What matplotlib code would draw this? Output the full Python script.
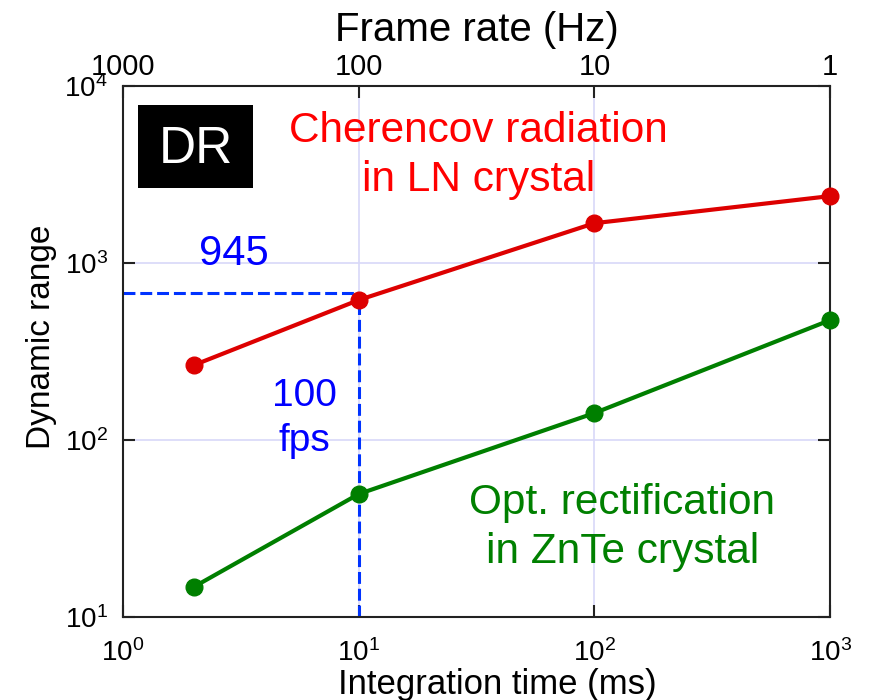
import numpy as np
import matplotlib.pyplot as plt
import matplotlib as mpl
from matplotlib.patches import Rectangle

mpl.rcParams["font.family"] = ["Liberation Sans", "DejaVu Sans"]
mpl.rcParams["mathtext.fontset"] = "custom"
mpl.rcParams["mathtext.rm"] = "Liberation Sans"
mpl.rcParams["mathtext.it"] = "Liberation Sans:italic"

# integration time (ms) and dynamic range for the two emitters
t_ms = [2, 10, 100, 1000]
dr_ln = [265, 618, 1680, 2390]
dr_znte = [14.8, 49.5, 142, 476]

# 100 fps guide lines
guide_t = 10
guide_dr = 676

frame_rates = [1000, 100, 10, 1]
frame_labels = ["1000", "100", "10", "1"]

fig = plt.figure(figsize=(8.72, 7.0), dpi=100, facecolor="w")
ax = fig.add_axes([0.141, 0.1186, 0.811, 0.7584])

ax.set_xscale("log")
ax.set_yscale("log")
ax.set_xlim(1, 1000)
ax.set_ylim(10, 1e4)
ax.minorticks_off()
ax.grid(True, which="major", color="#d8d8f8", lw=1.2, zorder=0)
ax.set_axisbelow(True)

# guide lines at 100 fps
ax.plot([1, guide_t], [guide_dr, guide_dr], color="#0033ff", lw=2.2,
        dashes=(3.9, 1.6), zorder=2)
ax.plot([guide_t, guide_t], [10, guide_dr], color="#0033ff", lw=2.2,
        dashes=(3.9, 1.6), zorder=2)

ax.plot(t_ms, dr_ln, color="#dd0000", lw=3, marker="o", ms=12, zorder=3,
        clip_on=False)
ax.plot(t_ms, dr_znte, color="#007f00", lw=3, marker="o", ms=12, zorder=3,
        clip_on=False)

for s in ax.spines.values():
    s.set_linewidth(1.5)
    s.set_color("#222222")
ax.tick_params(which="major", direction="in", length=8.5, width=1.5,
               right=True, labelsize=20, color="#222222")
ax.tick_params(axis="x", pad=16)
ax.tick_params(axis="y", pad=11)

ax.set_xlabel("Integration time (ms)", fontsize=25)
ax.xaxis.set_label_coords(0.529, -0.097)
ax.set_ylabel("Dynamic range", fontsize=24)
ax.yaxis.set_label_coords(-0.093, 0.527)

# frame rate on top axis
ax2 = ax.twiny()
ax2.set_xscale("log")
ax2.set_xlim(1000, 1)
ax2.minorticks_off()
ax2.set_xticks(frame_rates)
ax2.set_xticklabels(frame_labels)
ax2.tick_params(which="major", direction="in", length=8.5, width=1.5,
                labelsize=21, pad=4, color="#222222")
ax2.set_xlabel("Frame rate (Hz)", fontsize=29, labelpad=8)
for s in ax2.spines.values():
    s.set_visible(False)

# annotations
ax.add_patch(Rectangle((0.0212, 0.808), 0.163, 0.156, transform=ax.transAxes,
                       facecolor="black", edgecolor="none", zorder=4))
ax.text(0.103, 0.880, "DR", transform=ax.transAxes, color="white",
        fontsize=37, ha="center", va="center", zorder=5)
ax.text(0.503, 0.869, "Cherencov radiation\nin LN crystal", transform=ax.transAxes,
        color="#ff0000", fontsize=30.5, ha="center", va="center", linespacing=1.3)
ax.text(0.706, 0.169, "Opt. rectification\nin ZnTe crystal", transform=ax.transAxes,
        color="#008000", fontsize=30.5, ha="center", va="center", linespacing=1.3)
ax.text(0.157, 0.683, "945", transform=ax.transAxes, color="#0000ff",
        fontsize=30, ha="center", va="center")
ax.text(0.256, 0.374, "100\nfps", transform=ax.transAxes, color="#0000ff",
        fontsize=28, ha="center", va="center", linespacing=1.32)

fig.savefig("out.png", dpi=100)
